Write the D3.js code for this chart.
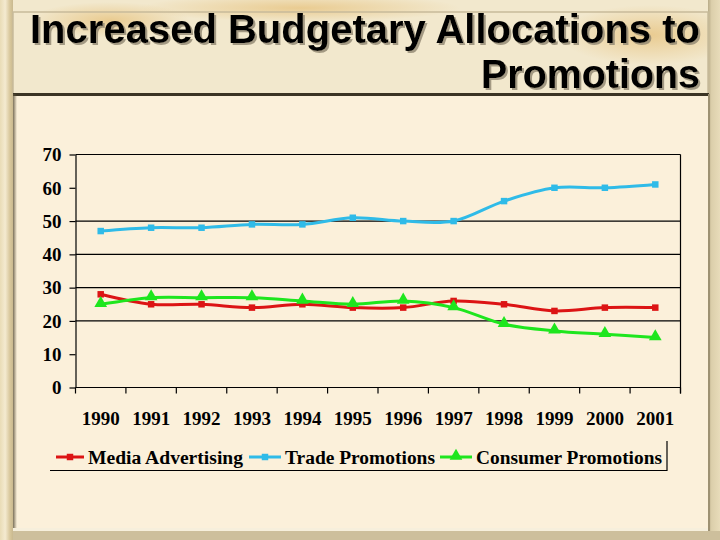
<!DOCTYPE html>
<html>
<head>
<meta charset="utf-8">
<script src="https://cdn.jsdelivr.net/npm/d3@7"></script>
<style>
  html, body { margin: 0; padding: 0; background: #efe4c6; }
  svg { display: block; }
</style>
</head>
<body>
<svg id="chart" width="720" height="540"></svg>
<script>
// ---- data ----
const years = ["1990","1991","1992","1993","1994","1995","1996","1997","1998","1999","2000","2001"];
const mediaAdvertising   = [28, 25, 25, 24, 25, 24, 24, 26, 25, 23, 24, 24];
const tradePromotions    = [47, 48, 48, 49, 49, 51, 50, 50, 56, 60, 60, 61];
const consumerPromotions = [25, 27, 27, 27, 26, 25, 26, 24, 19, 17, 16, 15];
const yTicks = [0, 10, 20, 30, 40, 50, 60, 70];
const gridValues = [20, 30, 40, 50];
const seriesNames = ["Media Advertising", "Trade Promotions", "Consumer Promotions"];
const titleLines = ["Increased Budgetary Allocations to", "Promotions"];

(function () {
const series = [
  { name: seriesNames[0], values: mediaAdvertising,   color: "#dc1414", marker: "square" },
  { name: seriesNames[1], values: tradePromotions,    color: "#2fbbe8", marker: "square" },
  { name: seriesNames[2], values: consumerPromotions, color: "#1ee61e", marker: "triangle" }
];

const svg = d3.select("#chart");
const defs = svg.append("defs");

// ---- background frame ----
const lg = defs.append("linearGradient").attr("id","leftStrip").attr("x1","0").attr("x2","1");
lg.append("stop").attr("offset","0").attr("stop-color","#e9dcb6");
lg.append("stop").attr("offset","0.4").attr("stop-color","#f4ead0");
lg.append("stop").attr("offset","0.75").attr("stop-color","#d9c89d");
lg.append("stop").attr("offset","1").attr("stop-color","#c9b98f");

const rg = defs.append("linearGradient").attr("id","rightStrip").attr("x1","0").attr("x2","1");
rg.append("stop").attr("offset","0").attr("stop-color","#b8ab88");
rg.append("stop").attr("offset","0.3").attr("stop-color","#dccfab");
rg.append("stop").attr("offset","1").attr("stop-color","#e8dcba");

const vein = defs.append("radialGradient").attr("id","vein");
vein.append("stop").attr("offset","0").attr("stop-color","#e2b460").attr("stop-opacity","0.55");
vein.append("stop").attr("offset","1").attr("stop-color","#e2b460").attr("stop-opacity","0");

const shadowL = defs.append("linearGradient").attr("id","shadowL").attr("x1","0").attr("x2","1");
shadowL.append("stop").attr("offset","0").attr("stop-color","#5a5038").attr("stop-opacity","0.8");
shadowL.append("stop").attr("offset","1").attr("stop-color","#5a5038").attr("stop-opacity","0");

const ds = defs.append("filter").attr("id","titleShadow").attr("x","-5%").attr("y","-20%").attr("width","110%").attr("height","140%");
ds.append("feDropShadow").attr("dx",2).attr("dy",2).attr("stdDeviation",0.6)
  .attr("flood-color","#8f8570").attr("flood-opacity",0.8);

svg.append("rect").attr("x",0).attr("y",0).attr("width",720).attr("height",540).attr("fill","#f2e8cd");
[[650,35,90,30],[300,8,160,14],[110,20,80,18],[20,520,60,25],[560,530,120,12]].forEach(v => {
  svg.append("ellipse").attr("cx",v[0]).attr("cy",v[1]).attr("rx",v[2]).attr("ry",v[3]).attr("fill","url(#vein)");
});
svg.append("rect").attr("x",0).attr("y",0).attr("width",13).attr("height",540).attr("fill","url(#leftStrip)");
svg.append("rect").attr("x",708).attr("y",0).attr("width",12).attr("height",540).attr("fill","url(#rightStrip)");
svg.append("rect").attr("x",13).attr("y",12).attr("width",695).attr("height",82)
  .attr("fill","none").attr("stroke","#c7bb9a").attr("stroke-width",1.5);
svg.append("rect").attr("x",13).attr("y",94).attr("width",696).attr("height",434).attr("fill","#fbf0da");
svg.append("rect").attr("x",13).attr("y",93).attr("width",696).attr("height",3).attr("fill","#3b3424");
svg.append("rect").attr("x",13).attr("y",94).attr("width",4).attr("height",434).attr("fill","url(#shadowL)");
svg.append("rect").attr("x",13).attr("y",528).attr("width",696).attr("height",3).attr("fill","#f6efdc");
svg.append("rect").attr("x",13).attr("y",531).attr("width",707).attr("height",9).attr("fill","#cdbf9c");
svg.append("rect").attr("x",708).attr("y",94).attr("width",2).attr("height",437).attr("fill","#9d9172");

// ---- title ----
const titleG = svg.append("g").attr("font-family","'Liberation Sans', Arial, sans-serif")
  .attr("font-weight","bold").attr("font-size",41).attr("text-anchor","end")
  .attr("filter","url(#titleShadow)");
const titlePos = [{x:700, y:43, len:670}, {x:700, y:88, len:219}];
titleLines.forEach((t,i) => {
  titleG.append("text").attr("x",titlePos[i].x).attr("y",titlePos[i].y)
    .attr("textLength",titlePos[i].len).attr("lengthAdjust","spacingAndGlyphs")
    .attr("fill","#000").text(t);
});

// ---- chart ----
const pLeft = 75.5, pRight = 680.5, pTop = 154.5, pBottom = 387.5;
const x = d3.scalePoint().domain(years).range([pLeft, pRight]).padding(0.5);
const y = d3.scaleLinear().domain([0,70]).range([pBottom, pTop]);
const serif = "'Liberation Serif', 'Times New Roman', serif";

svg.append("g").selectAll("line").data(gridValues).join("line")
  .attr("x1",pLeft).attr("x2",pRight).attr("y1",d=>y(d)).attr("y2",d=>y(d))
  .attr("stroke","#000").attr("stroke-width",1.2);
svg.append("line").attr("x1",pLeft).attr("x2",pRight).attr("y1",y(70)).attr("y2",y(70)).attr("stroke","#000").attr("stroke-width",1.2);
svg.append("line").attr("x1",pRight).attr("x2",pRight).attr("y1",y(70)).attr("y2",pBottom+6).attr("stroke","#000").attr("stroke-width",1.2);

const yAxis = svg.append("g").attr("transform",`translate(${pLeft},0)`)
  .call(d3.axisLeft(y).tickValues(yTicks).tickSize(6).tickSizeOuter(0).tickPadding(8));
yAxis.select(".domain").attr("stroke","#000").attr("stroke-width",1.2);
yAxis.selectAll(".tick line").attr("stroke","#000").attr("stroke-width",1.2);
yAxis.selectAll(".tick text").attr("font-family",serif).attr("font-weight","bold")
  .attr("font-size",19).attr("fill","#000").attr("dy","0.33em");

const step = x.step();
const xBoundaries = d3.range(years.length + 1).map(i => pLeft + i*step);
svg.append("line").attr("x1",pLeft).attr("x2",pRight).attr("y1",pBottom).attr("y2",pBottom).attr("stroke","#000").attr("stroke-width",1.2);
svg.append("g").selectAll("line").data(xBoundaries).join("line")
  .attr("x1",d=>d).attr("x2",d=>d).attr("y1",pBottom).attr("y2",pBottom+6)
  .attr("stroke","#000").attr("stroke-width",1.2);
svg.append("g").selectAll("text").data(years).join("text")
  .attr("x",d=>x(d)).attr("y",425).attr("text-anchor","middle")
  .attr("font-family",serif).attr("font-weight","bold").attr("font-size",19).attr("fill","#000")
  .text(d=>d);

const line = d3.line().x((d,i)=>x(years[i])).y(d=>y(d)).curve(d3.curveCardinal.tension(0));
const sym = { square: d3.symbolSquare, triangle: d3.symbolTriangle };
const symSize = { square: 42, triangle: 70 };
series.forEach(s => {
  svg.append("path").datum(s.values).attr("d",line).attr("fill","none")
    .attr("stroke",s.color).attr("stroke-width",3).attr("stroke-linejoin","round");
  svg.append("g").selectAll("path").data(s.values).join("path")
    .attr("transform",(d,i)=>`translate(${x(years[i])},${y(d) + (s.marker==="triangle"?-1:0)})`)
    .attr("d", d3.symbol().type(sym[s.marker]).size(symSize[s.marker]))
    .attr("fill",s.color);
});

// ---- legend ----
const legendItems = [
  { lineX1: 56, lineX2: 84, textX: 88, len: 155 },
  { lineX1: 249, lineX2: 281, textX: 285, len: 150 },
  { lineX1: 440, lineX2: 472, textX: 476, len: 186 }
];
const legY = 457, legBase = 463.5;
const legG = svg.append("g");
series.forEach((s,i) => {
  const it = legendItems[i];
  legG.append("line").attr("x1",it.lineX1).attr("x2",it.lineX2).attr("y1",legY).attr("y2",legY)
    .attr("stroke",s.color).attr("stroke-width",3);
  legG.append("path").attr("transform",`translate(${(it.lineX1+it.lineX2)/2},${legY + (s.marker==="triangle"?-1:0)})`)
    .attr("d", d3.symbol().type(sym[s.marker]).size(symSize[s.marker]))
    .attr("fill",s.color);
  legG.append("text").attr("x",it.textX).attr("y",legBase)
    .attr("font-family",serif).attr("font-weight","bold").attr("font-size",18).attr("fill","#000")
    .attr("textLength",it.len).attr("lengthAdjust","spacingAndGlyphs").text(s.name);
});
legG.append("line").attr("x1",50).attr("x2",667).attr("y1",470.5).attr("y2",470.5).attr("stroke","#000").attr("stroke-width",1.2);
legG.append("line").attr("x1",667).attr("x2",667).attr("y1",441).attr("y2",471).attr("stroke","#000").attr("stroke-width",1.2);
})();
</script>
</body>
</html>
